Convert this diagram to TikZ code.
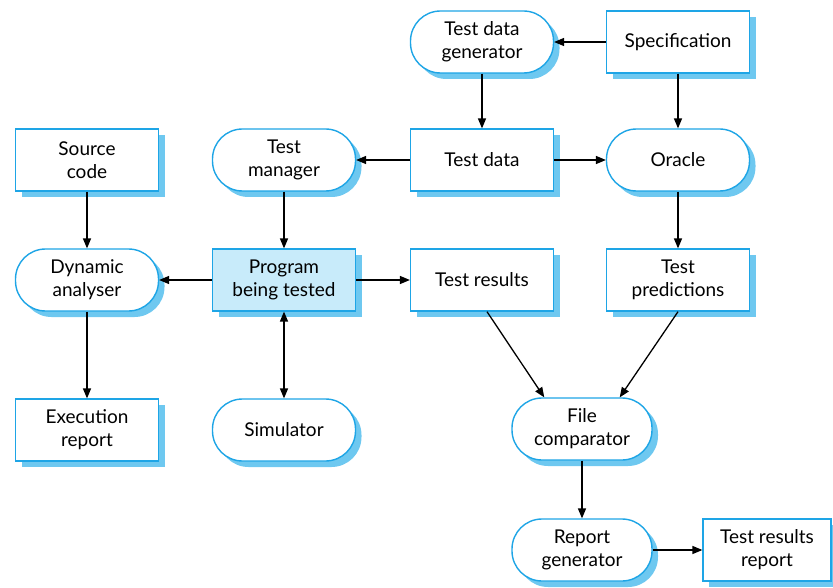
\documentclass[tikz,border=0pt]{standalone}
\usepackage{fontspec}
\setmainfont{Lato}
\usepackage{tikz}
\usetikzlibrary{arrows,shadows}

\definecolor{edgeblue}{RGB}{30,165,230}
\definecolor{shadowblue}{RGB}{110,200,240}
\definecolor{fillblue}{RGB}{200,235,250}

\tikzset{
  box/.style={draw=edgeblue, line width=1.4pt, fill=white, minimum width=143pt,
    minimum height=62pt, align=center, font=\fontsize{19}{23}\selectfont,
    drop shadow={shadow xshift=6pt, shadow yshift=-6pt, fill=shadowblue, opacity=1}},
  tool/.style={box, rounded corners=30pt},
  flow/.style={->, line width=1.3pt}
}

\begin{document}
\begin{tikzpicture}[>=triangle 45,x=1pt,y=-1pt]
\useasboundingbox (0,0) rectangle (833,588);
% top row
\node[tool] (gen) at (482,42) {Test data\\generator};
\node[box] (spec) at (678,42) {Specification};
% second row
\node[box] (src) at (87,160) {Source\\code};
\node[tool] (mgr) at (284,160) {Test\\manager};
\node[box] (data) at (482,160) {Test data};
\node[tool] (oracle) at (678,160) {Oracle};
% third row
\node[tool] (dyn) at (87,280) {Dynamic\\analyser};
\node[box, fill=fillblue] (prog) at (284,280) {Program\\being tested};
\node[box] (res) at (482,280) {Test results};
\node[box] (pred) at (678,280) {Test\\predictions};
% fourth row
\node[box] (exec) at (87,430) {Execution\\report};
\node[tool] (sim) at (284,430) {Simulator};
\node[tool, minimum width=140pt] (cmp) at (582,429) {File\\comparator};
% bottom row
\node[tool, minimum width=140pt] (rep) at (582,550) {Report\\generator};
\node[box, minimum width=128pt] (out) at (767,550) {Test results\\report};

\draw[flow] (spec) -- (gen);
\draw[flow] (gen) -- (data);
\draw[flow] (spec) -- (oracle);
\draw[flow] (data) -- (mgr);
\draw[flow] (data) -- (oracle);
\draw[flow] (src) -- (dyn);
\draw[flow] (mgr) -- (prog);
\draw[flow] (prog) -- (dyn);
\draw[flow] (prog) -- (res);
\draw[<->, line width=1.3pt] (prog) -- (sim);
\draw[flow] (oracle) -- (pred);
\draw[flow] (dyn) -- (exec);
\draw[flow] (res.south) ++(5,0) -- (cmp.140);
\draw[flow] (pred.south) -- (cmp.40);
\draw[flow] (cmp) -- (rep);
\draw[flow] (rep) -- (out);
\end{tikzpicture}
\end{document}
